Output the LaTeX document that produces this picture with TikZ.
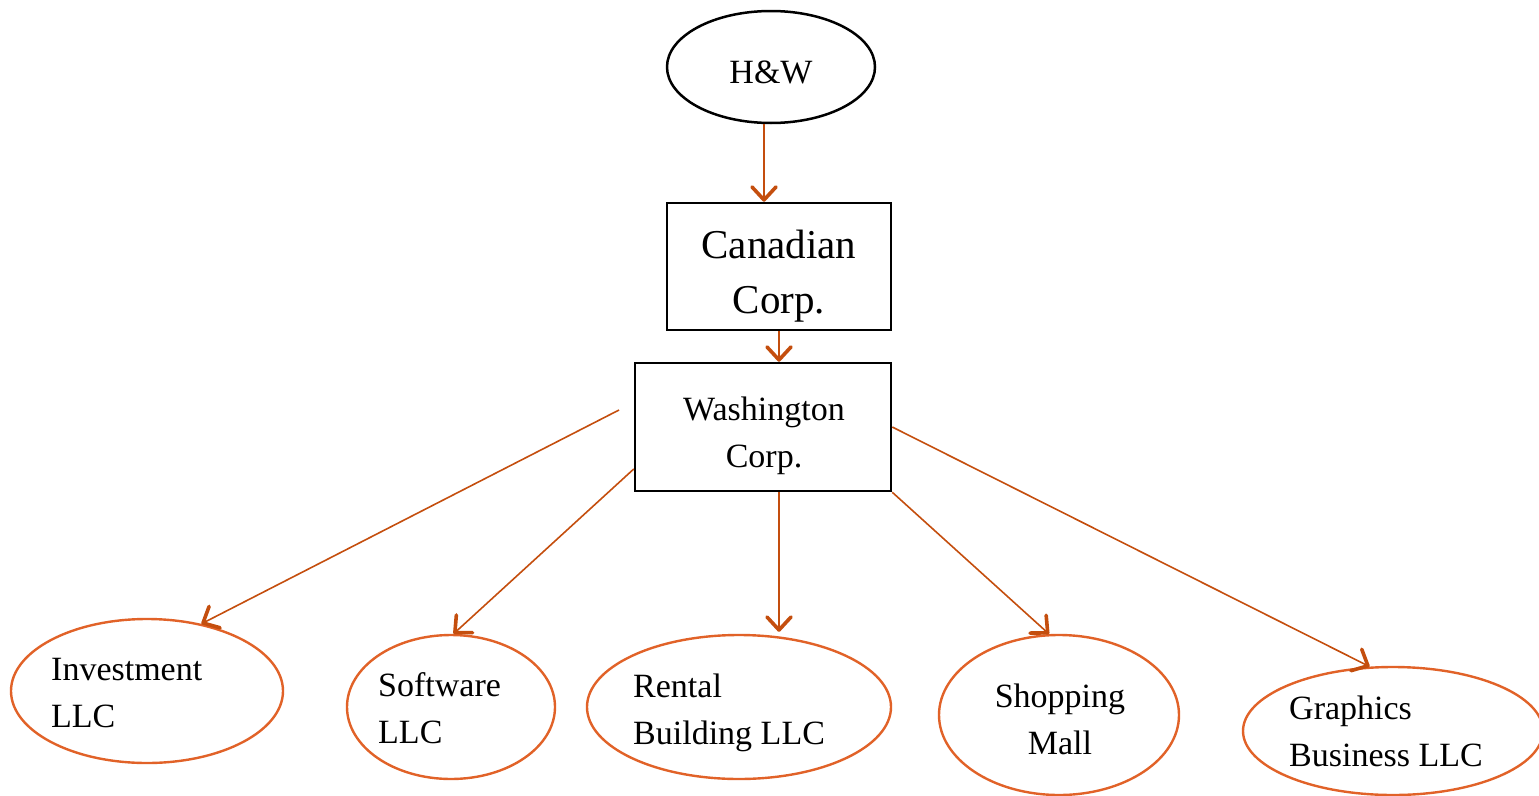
\documentclass[tikz,border=0pt]{standalone}
\usepackage{fontspec}
\setmainfont{Liberation Serif}
\usetikzlibrary{shapes.geometric,arrows.meta}
\definecolor{arrc}{RGB}{196,78,14}
\definecolor{ellc}{RGB}{225,98,40}
\tikzset{
  conn/.style={draw=arrc,line width=1.6pt,-{Straight Barb[length=13pt,width=24pt,line width=3.6pt,round]}},
  blackell/.style={ellipse,draw=black,line width=2.5pt,inner sep=0pt},
  orell/.style={ellipse,draw=ellc,line width=2.4pt,inner sep=0pt},
  corpbox/.style={rectangle,draw=black,line width=2.5pt,inner sep=0pt},
  lbl/.style={inner sep=0pt,align=left,font=\fontsize{34}{47}\selectfont},
}
\begin{document}
\begin{tikzpicture}[x=1pt,y=-1pt]
\useasboundingbox (0,0) rectangle (1539,795);
% top nodes
\node[blackell,minimum width=208pt,minimum height=112pt] (hw) at (771,67) {};
\node[corpbox,minimum width=224pt,minimum height=127pt] (can) at (779,266.5) {};
\node[corpbox,minimum width=256pt,minimum height=128pt] (wash) at (763,427) {};
% bottom ellipses
\node[orell,minimum width=272pt,minimum height=144pt] (inv) at (147,691) {};
\node[orell,minimum width=208pt,minimum height=144pt] (soft) at (451,707) {};
\node[orell,minimum width=304pt,minimum height=144pt] (rent) at (739,707) {};
\node[orell,minimum width=240pt,minimum height=160pt] (shop) at (1059,715) {};
\node[orell,minimum width=300pt,minimum height=128pt] (graph) at (1393,731) {};
% labels (anchor = baseline of last line)
\node[lbl,anchor=base] (hwt) at (771,83) {H\&W};
\node[lbl,anchor=base,align=center,font=\fontsize{41}{55}\selectfont] (cant) at (779,313) {Canadian\\Corp.};
\node[lbl,anchor=base,align=center] (washt) at (764,467) {Washington\\Corp.};
\node[lbl,anchor=base west] (invt) at (51,727) {Investment\\LLC};
\node[lbl,anchor=base west] (softt) at (378,743) {Software\\LLC};
\node[lbl,anchor=base west] (rentt) at (633,744) {Rental\\Building LLC};
\node[lbl,anchor=base,align=center] (shopt) at (1060,754) {Shopping\\Mall};
\node[lbl,anchor=base west] (grapht) at (1289,766) {Graphics\\Business LLC};
% connectors
\coordinate (invstart) at (619,410);
\draw[conn] ([xshift=-7pt]hw.south) -- ([xshift=-7pt]hw.south |- can.north);
\draw[conn] (can.south) -- (can.south |- wash.north);
\draw[conn] (invstart) -- (inv.51);
\draw[conn] (wash.198) -- (soft.88);
\draw[conn] (can.south |- wash.south) -- ([yshift=2pt]can.south |- rent.north);
\draw[conn] (wash.south east) -- (shop.97);
\draw[conn] (wash.east) -- (graph.110);
\end{tikzpicture}
\end{document}
